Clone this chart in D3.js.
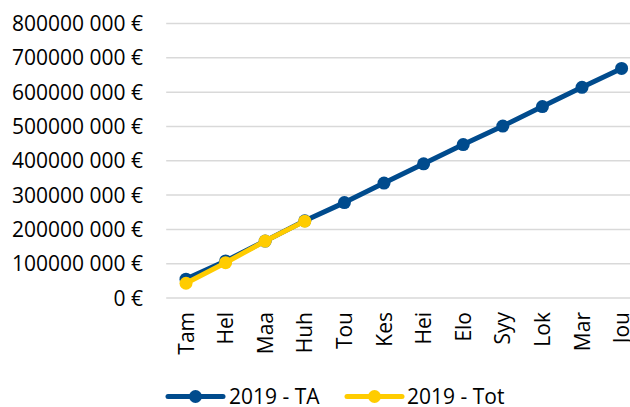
<!DOCTYPE html>
<html><head><meta charset="utf-8">
<script src="https://cdn.jsdelivr.net/npm/d3@7"></script>
<style>body{margin:0;background:#fff}svg{display:block}text{font-family:"Open Sans",sans-serif;fill:#000}</style>
</head><body>
<svg id="c" width="630" height="407"></svg>
<script>
const months = ["Tam","Hel","Maa","Huh","Tou","Kes","Hei","Elo","Syy","Lok","Mar","Jou"];
const seriesTA = [55e6,108e6,166e6,225e6,278e6,335e6,391e6,447e6,501e6,558e6,614e6,669e6];
const seriesTot = [43e6,103e6,166e6,224e6];
const yTicks = [0,100e6,200e6,300e6,400e6,500e6,600e6,700e6,800e6];
const seriesNames = ["2019 - TA","2019 - Tot"];
const colors = ["#004b8d","#ffcc00"];

const svg = d3.select("#c");
const x = d3.scalePoint().domain(months).range([166.2,641.4]).padding(0.5);
const y = d3.scaleLinear().domain([0,800e6]).range([298,23.5]);

const fmt = v => {
  if (v===0) return "0 €";
  const s = String(Math.round(v));
  return s.slice(0,s.length-3) + " " + s.slice(-3) + " €";
};

// grid
svg.append("g").selectAll("line").data(yTicks).join("line")
  .attr("x1",166.2).attr("x2",641.4)
  .attr("y1",d=>y(d)).attr("y2",d=>y(d))
  .attr("stroke","#d9d9d9").attr("stroke-width",1.5);

// y labels
svg.append("g").selectAll("text").data(yTicks).join("text")
  .attr("x",143).attr("y",d=>y(d)).attr("dy","0.36em")
  .attr("text-anchor","end").attr("font-size",21).text(fmt);

// x labels
svg.append("g").selectAll("text").data(months).join("text")
  .attr("transform",d=>`translate(${x(d)},312) rotate(-90)`)
  .attr("dy","0.36em").attr("text-anchor","end").attr("font-size",21).text(d=>d);

const line = d3.line().x((d,i)=>x(months[i])).y(d=>y(d));
[seriesTA, seriesTot].forEach((s,k)=>{
  const g = svg.append("g");
  g.append("path").attr("d",line(s)).attr("fill","none")
    .attr("stroke",colors[k]).attr("stroke-width",5).attr("stroke-linejoin","round");
  g.selectAll("circle").data(s).join("circle")
    .attr("cx",(d,i)=>x(months[i])).attr("cy",d=>y(d)).attr("r",6.5)
    .attr("fill",colors[k]);
});

// legend
const leg = [{x1:168,x2:223,tx:229},{x1:347,x2:402,tx:407}];
leg.forEach((l,k)=>{
  const g = svg.append("g");
  g.append("line").attr("x1",l.x1).attr("x2",l.x2).attr("y1",396.5).attr("y2",396.5)
    .attr("stroke",colors[k]).attr("stroke-width",5).attr("stroke-linecap","round");
  g.append("circle").attr("cx",(l.x1+l.x2)/2).attr("cy",396.5).attr("r",6.5).attr("fill",colors[k]);
  g.append("text").attr("x",l.tx).attr("y",396.5).attr("dy","0.36em").attr("font-size",21).text(seriesNames[k]);
});
</script>
</body></html>
